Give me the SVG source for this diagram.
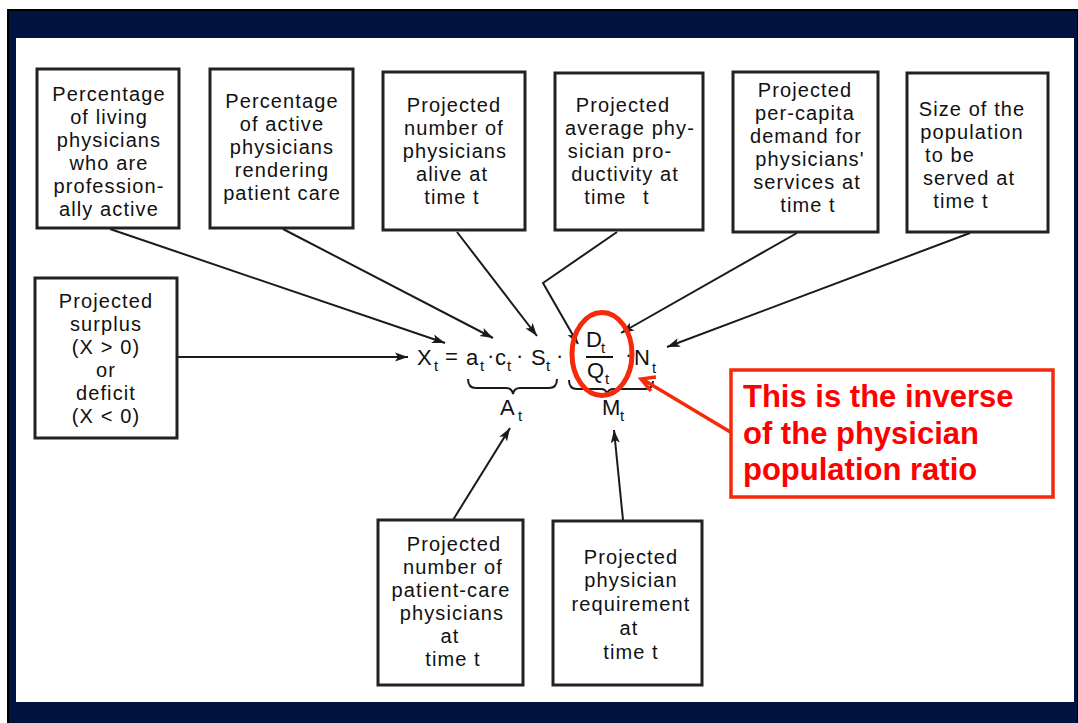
<svg xmlns="http://www.w3.org/2000/svg" width="1078" height="723" viewBox="0 0 1078 723">
<style>
.box{fill:#fff;stroke:#222;stroke-width:3}
.t{font-family:"Liberation Sans",Arial,sans-serif;font-size:20px;letter-spacing:1.1px;fill:#111;text-anchor:middle}
.f{font-family:"Liberation Sans",Arial,sans-serif;font-size:22px;fill:#111}
.s{font-size:15px}
.c{fill:none;stroke:#1a1a1a;stroke-width:2}
.red{fill:none;stroke:#f52a0a}
.rt{font-family:"Liberation Sans",Arial,sans-serif;font-size:31px;font-weight:bold;fill:#ff0000}
</style>
<defs>
<marker id="ah" markerWidth="14" markerHeight="10" refX="13" refY="5" orient="auto" markerUnits="userSpaceOnUse">
<path d="M0,0.5 L13,5 L0,9.5 L3,5 z" fill="#1a1a1a"/>
</marker>
</defs>
<rect x="0" y="0" width="1078" height="723" fill="#fff"/>
<rect x="7" y="9" width="1071" height="714" fill="#000"/>
<rect x="9" y="11" width="1068" height="712" fill="#00133f"/>
<rect x="16" y="38" width="1058" height="664" fill="#fff"/>

<g id="connectors">
<path class="c" d="M110,229 L445,343" marker-end="url(#ah)"/>
<path class="c" d="M283,229 L493,338" marker-end="url(#ah)"/>
<path class="c" d="M457,232 L537,336" marker-end="url(#ah)"/>
<path class="c" d="M617,232 L543,283 L578,344" marker-end="url(#ah)"/>
<path class="c" d="M797,233 L621,333" marker-end="url(#ah)"/>
<path class="c" d="M970,233 L667,347" marker-end="url(#ah)"/>
<path class="c" d="M178,357 L408,357" marker-end="url(#ah)"/>
<path class="c" d="M453,520 L510,428" marker-end="url(#ah)"/>
<path class="c" d="M623,520 L614,430" marker-end="url(#ah)"/>
</g>

<g id="node-active">
<rect class="box" x="37" y="69" width="142" height="159"/>
<text class="t"><tspan x="109" y="101">Percentage</tspan><tspan x="109" y="124">of living</tspan><tspan x="109" y="147">physicians</tspan><tspan x="109" y="170">who are</tspan><tspan x="109" y="193">profession-</tspan><tspan x="109" y="216">ally active</tspan></text>
</g>

<g id="node-patientcare">
<rect class="box" x="210" y="69" width="143" height="159"/>
<text class="t"><tspan x="282" y="108">Percentage</tspan><tspan x="282" y="131">of active</tspan><tspan x="282" y="154">physicians</tspan><tspan x="282" y="177">rendering</tspan><tspan x="282" y="200">patient care</tspan></text>
</g>

<g id="node-alive">
<rect class="box" x="383" y="72" width="142" height="158"/>
<text class="t"><tspan x="454" y="112">Projected</tspan><tspan x="454" y="135">number of</tspan><tspan x="455" y="158">physicians</tspan><tspan x="452" y="181">alive at</tspan><tspan x="452" y="204">time t</tspan></text>
</g>

<g id="node-productivity">
<rect class="box" x="555" y="73" width="148" height="157"/>
<text class="t"><tspan x="623" y="112">Projected</tspan><tspan x="630" y="135">average phy-</tspan><tspan x="620" y="158">sician pro-</tspan><tspan x="625" y="181">ductivity at</tspan><tspan x="617" y="204" word-spacing="10">time t</tspan></text>
</g>

<g id="node-demand">
<rect class="box" x="733" y="72" width="145" height="160"/>
<text class="t"><tspan x="805" y="97">Projected</tspan><tspan x="805" y="120">per-capita</tspan><tspan x="806" y="143">demand for</tspan><tspan x="810" y="166">physicians'</tspan><tspan x="807" y="189">services at</tspan><tspan x="808" y="212">time t</tspan></text>
</g>

<g id="node-population">
<rect class="box" x="907" y="73" width="141" height="159"/>
<text class="t"><tspan x="972" y="116">Size of the</tspan><tspan x="972" y="139">population</tspan><tspan x="950" y="162">to be</tspan><tspan x="969" y="185">served at</tspan><tspan x="961" y="208">time t</tspan></text>
</g>

<g id="node-surplus">
<rect class="box" x="35" y="278" width="142" height="160"/>
<text class="t"><tspan x="106" y="308">Projected</tspan><tspan x="106" y="331">surplus</tspan><tspan x="106" y="354">(X &gt; 0)</tspan><tspan x="106" y="377">or</tspan><tspan x="106" y="400">deficit</tspan><tspan x="106" y="423">(X &lt; 0)</tspan></text>
</g>

<g id="node-formula">
<text class="f"><tspan x="417" y="365">X</tspan><tspan class="s" x="434" y="371">t</tspan><tspan x="445" y="364">=</tspan><tspan x="466" y="365">a</tspan><tspan class="s" x="480" y="371">t</tspan><tspan x="487" y="363">·</tspan><tspan x="495" y="365">c</tspan><tspan class="s" x="507" y="371">t</tspan><tspan x="516" y="363">·</tspan><tspan x="531" y="365">S</tspan><tspan class="s" x="546" y="371">t</tspan><tspan x="556" y="363">·</tspan></text>
<text class="f"><tspan x="586" y="347">D</tspan><tspan class="s" x="601" y="353">t</tspan><tspan x="587" y="378">Q</tspan><tspan class="s" x="605" y="384">t</tspan></text>
<line x1="586" y1="357" x2="613" y2="357" stroke="#111" stroke-width="2"/>
<text class="f"><tspan x="625" y="362">·</tspan><tspan x="634" y="365">N</tspan><tspan class="s" x="652" y="373">t</tspan></text>
<path class="c" d="M468,379 Q468,388 476,388 L506,388 Q512,388 513,394 Q514,388 520,388 L549,388 Q557,388 557,379"/>
<path class="c" d="M569,380 Q569,389 577,389 L601,389 Q606,389 607,394 Q608,389 614,389 L645,389 Q653,389 653,381"/>
<text class="f"><tspan x="500" y="415">A</tspan><tspan class="s" x="518" y="421">t</tspan></text>
<text class="f"><tspan x="602" y="415">M</tspan><tspan class="s" x="620" y="421">t</tspan></text>
</g>

<g id="node-patientcare-count">
<rect class="box" x="378" y="520" width="145" height="165"/>
<text class="t"><tspan x="454" y="551">Projected</tspan><tspan x="453" y="574">number of</tspan><tspan x="451" y="597">patient-care</tspan><tspan x="452" y="620">physicians</tspan><tspan x="450" y="643">at</tspan><tspan x="453" y="666">time t</tspan></text>
</g>

<g id="node-requirement">
<rect class="box" x="553" y="521" width="149" height="164"/>
<text class="t"><tspan x="631" y="564">Projected</tspan><tspan x="631" y="587">physician</tspan><tspan x="631" y="611">requirement</tspan><tspan x="629" y="635">at</tspan><tspan x="631" y="659">time t</tspan></text>
</g>

<g id="callout">
<ellipse class="red" cx="602" cy="354" rx="30" ry="41.5" stroke-width="5"/>
<line class="red" x1="732" y1="433" x2="642" y2="379" stroke-width="3.5"/>
<polyline class="red" points="656,377 641,379 651,391" stroke-width="3.5" stroke-linejoin="miter"/>
<rect x="731" y="370" width="322" height="127" fill="#fff" stroke="#f52a0a" stroke-width="3.5"/>
<text class="rt"><tspan x="743" y="407">This is the inverse</tspan><tspan x="743" y="444">of the physician</tspan><tspan x="743" y="480">population ratio</tspan></text>
</g>
</svg>
